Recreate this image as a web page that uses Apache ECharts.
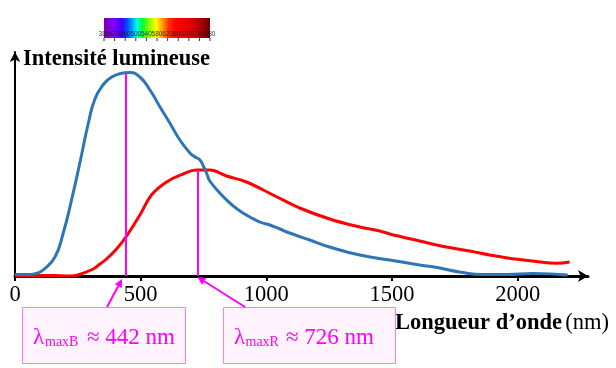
<!DOCTYPE html>
<html>
<head>
<meta charset="utf-8">
<script src="https://cdn.jsdelivr.net/npm/echarts@6/dist/echarts.min.js"></script>
<style>
html,body{margin:0;padding:0;background:#fff;}
#c{width:616px;height:368px;}
</style>
</head>
<body>
<div id="c"></div>
<script>
// ---- data (wavelength nm, intensity arbitrary units) ----
const blueWavelengths = [0, 60, 90, 112, 159, 192, 225, 258, 292, 318, 350, 385, 420, 458, 497, 537, 577, 616, 656, 696, 716, 736, 751, 765, 775, 815, 855, 907, 974, 1014, 1054, 1093, 1173, 1252, 1372, 1491, 1610, 1690, 1769, 1861, 1960, 2060, 2199];
const blueIntensity   = [1.5, 1.5, 3, 6, 19, 43, 76, 113, 153, 177, 191, 199, 202.5, 203.5, 199, 186, 169, 153, 136, 123, 119, 116, 109, 101, 95, 83, 73, 63, 54, 51, 47, 43, 36, 29, 21, 16, 11, 8, 4, 1.5, 1.5, 2.5, 1];
const redWavelengths  = [0, 150, 220, 250, 311, 338, 364, 404, 444, 497, 543, 603, 669, 722, 775, 842, 921, 1027, 1133, 1252, 1372, 1451, 1491, 1610, 1716, 1809, 1889, 1960, 2060, 2155, 2207];
const redIntensity    = [0.5, 0.5, 0, 1, 7, 12, 17, 27, 40, 61, 81, 94, 102, 106, 106, 100, 94, 81, 68, 57, 49, 45, 42, 35, 29, 25, 21, 18, 15, 12.7, 14];
const xTickValues = [0, 500, 1000, 1500, 2000];
const peakNames = ['B', 'R'];
const peakLambdas = [442, 726];
const peakHeights = [203, 106];
const spectrumLabels = ['380','420','460','500','540','580','620','660','700','740','780'];
const yTitle = 'Intensité lumineuse';
const xTitleBold = 'Longueur d’onde';
const xTitleUnit = '(nm)';

const SERIF = '"Liberation Serif", "Times New Roman", serif';
const MAG = '#ff00ff';

const chart = echarts.init(document.getElementById('c'), null, {renderer: 'canvas'});

function pairs(xs, ys) { return xs.map((x, i) => [x, ys[i]]); }

chart.setOption({
  animation: false,
  backgroundColor: '#fff',
  grid: {left: 15, right: 28, top: 52, bottom: 92},
  xAxis: {
    type: 'value', min: 0, max: 2280, interval: 500,
    axisLine: {show: true, symbol: ['none', 'arrow'], symbolSize: [9, 10], lineStyle: {color: '#000', width: 3}},
    axisTick: {show: true, length: 5, customValues: xTickValues, lineStyle: {color: '#000', width: 2}},
    axisLabel: {customValues: xTickValues, formatter: v => String(v), fontFamily: SERIF, fontSize: 22.5, color: '#000', margin: 8},
    splitLine: {show: false}
  },
  yAxis: {
    type: 'value', min: 0, max: 224,
    axisLine: {show: true, symbol: ['none', 'arrow'], symbolSize: [8, 10], lineStyle: {color: '#000', width: 2}},
    axisTick: {show: false}, axisLabel: {show: false}, splitLine: {show: false}
  },
  series: [
    {
      type: 'line', name: 'R', data: pairs(redWavelengths, redIntensity), smooth: 0.4,
      showSymbol: false, lineStyle: {color: '#ff0000', width: 3}, z: 2
    },
    {
      type: 'line', name: 'B', data: pairs(blueWavelengths, blueIntensity), smooth: 0.5,
      showSymbol: false, lineStyle: {color: '#2e75b6', width: 3}, z: 3,
      markLine: {
        silent: true, symbol: 'none', label: {show: false},
        lineStyle: {color: MAG, width: 2, type: 'solid'},
        data: peakLambdas.map((l, i) => [{coord: [l, 0]}, {coord: [l, peakHeights[i]]}])
      }
    }
  ]
});

// ---- annotations ----
const g = [];
// spectrum bar
const barX = 104, barY = 18, barW = 106, barH = 20;
g.push({
  type: 'rect', shape: {x: barX, y: barY, width: barW, height: barH}, z: 10,
  style: {fill: new echarts.graphic.LinearGradient(0, 0, 1, 0, [
    {offset: 0.00, color: '#7a00a8'},
    {offset: 0.10, color: '#8000ff'},
    {offset: 0.17, color: '#3a00ff'},
    {offset: 0.22, color: '#0050ff'},
    {offset: 0.27, color: '#00a8ff'},
    {offset: 0.31, color: '#00ffe0'},
    {offset: 0.36, color: '#00ff40'},
    {offset: 0.42, color: '#80ff00'},
    {offset: 0.49, color: '#ffff00'},
    {offset: 0.55, color: '#ffa000'},
    {offset: 0.61, color: '#ff3000'},
    {offset: 0.68, color: '#ff0000'},
    {offset: 0.82, color: '#e00000'},
    {offset: 0.93, color: '#a00000'},
    {offset: 1.00, color: '#600000'}
  ])}
});
spectrumLabels.forEach((t, i) => {
  const x = barX + i * barW / (spectrumLabels.length - 1);
  g.push({type: 'text', z: 11, style: {text: t, x: x, y: barY + 16, align: 'center', verticalAlign: 'middle',
    font: '6.5px "Liberation Sans"', fill: 'rgba(30,30,30,0.9)'}});
  g.push({type: 'line', z: 11, shape: {x1: x, y1: barY + barH, x2: x, y2: barY + barH + 3}, style: {stroke: '#333', lineWidth: 1}});
});

// titles
g.push({type: 'text', z: 10, style: {text: yTitle, x: 23, y: 59.5, verticalAlign: 'middle',
  font: 'bold 22.5px ' + SERIF, fill: '#000'}});
g.push({type: 'text', z: 10, style: {
  text: '{b|' + xTitleBold + '} {r|' + xTitleUnit + '}', x: 395, y: 322.8, verticalAlign: 'middle',
  rich: {b: {font: 'bold 22.5px ' + SERIF, fill: '#000'}, r: {font: '22.5px ' + SERIF, fill: '#000'}}
}});

// callout boxes
const boxes = [{x: 22, w: 163}, {x: 223, w: 172}];
const subX = [45, 245.5];
const restX = [87, 286];
const arrowStart = [[107, 307], [245, 307]];
const axisY = chart.convertToPixel({gridIndex: 0}, [0, 0])[1];
const tips = peakLambdas.map((l, i) => {
  const px = chart.convertToPixel({gridIndex: 0}, [l, 0])[0];
  return i === 0 ? [px - 4, axisY + 3] : [px, axisY + 1];
});
boxes.forEach((b, i) => {
  g.push({type: 'rect', z: 10, shape: {x: b.x + 0.5, y: 307.5, width: b.w, height: 56},
    style: {fill: '#fff3fd', stroke: '#ff7aff', lineWidth: 1}});
  g.push({type: 'text', z: 11, style: {text: 'λ', x: b.x + 11, y: 337.6, verticalAlign: 'middle',
    font: '23px ' + SERIF, fill: MAG}});
  g.push({type: 'text', z: 11, style: {text: 'max' + peakNames[i], x: subX[i], y: 342.5, verticalAlign: 'middle',
    font: '14px ' + SERIF, fill: MAG}});
  g.push({type: 'text', z: 11, style: {text: '≈ ' + peakLambdas[i] + ' nm', x: restX[i], y: 337.6, verticalAlign: 'middle',
    font: '23px ' + SERIF, fill: MAG}});
  // arrow
  const s = arrowStart[i], t = tips[i];
  const dx = t[0] - s[0], dy = t[1] - s[1], L = Math.hypot(dx, dy);
  const ux = dx / L, uy = dy / L, nx = -uy, ny = ux;
  const hl = 8, hw = 4;
  const bx = t[0] - ux * hl, by = t[1] - uy * hl;
  g.push({type: 'line', z: 12, shape: {x1: s[0], y1: s[1], x2: bx, y2: by}, style: {stroke: MAG, lineWidth: 2}});
  g.push({type: 'polygon', z: 12, shape: {points: [[t[0], t[1]], [bx + nx * hw, by + ny * hw], [bx - nx * hw, by - ny * hw]]},
    style: {fill: MAG}});
});

chart.setOption({graphic: g});
</script>
</body>
</html>
